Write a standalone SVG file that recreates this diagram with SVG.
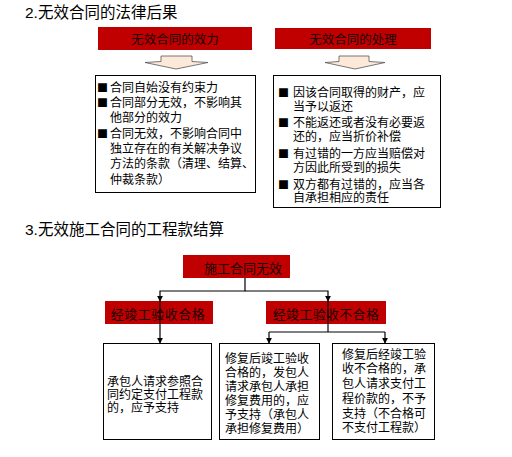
<svg xmlns="http://www.w3.org/2000/svg" width="512" height="457" viewBox="0 0 512 457">
<style>
text{font-family:"Liberation Sans","Noto Sans CJK SC",sans-serif;fill:#000}
.title{font-size:15.5px}
.red{fill:#C00000}
.rt{font-size:12.5px;fill:#1a0000;text-anchor:middle}
.box{fill:#fff;stroke:#000;stroke-width:1}
.t{font-size:12px}
.b{font-family:"Noto Sans CJK SC",sans-serif;font-size:11px}
.arrow{fill:#FDE9D9;stroke:#555;stroke-width:0.8}
.con{fill:none;stroke:#000;stroke-width:1.2}
</style>
<defs>
<marker id="ah" viewBox="0 0 8 8" refX="7" refY="4" markerWidth="6" markerHeight="6" orient="auto" markerUnits="userSpaceOnUse">
<path d="M0,0 L8,4 L0,8 z" fill="#000"/>
</marker>
</defs>
<rect width="512" height="457" fill="#fff"/>
<text class="title" x="25" y="18">2.无效合同的法律后果</text>
<text class="title" x="25" y="235">3.无效施工合同的工程款结算</text>

<g id="effect-head">
<rect class="red" x="98" y="27" width="154" height="23"/>
<text class="rt" x="175" y="44">无效合同的效力</text>
</g>
<g id="handle-head">
<rect class="red" x="275" y="28" width="156" height="21"/>
<text class="rt" x="353" y="44">无效合同的处理</text>
</g>
<g id="arrow1"><polygon class="arrow" points="161,56 192,56 192,61.5 208,62.5 176,69 145,62.5 161,61.5"/></g>
<g id="arrow2"><polygon class="arrow" points="339,56 369,56 369,61.5 385,62.5 355,69 325,62.5 339,61.5"/></g>

<g id="effect-box">
<rect class="box" x="95.5" y="75.5" width="160" height="117"/>
<text class="t"><tspan class="b" x="97" y="91.5">■</tspan><tspan x="110" y="91.5">合同自始没有约束力</tspan><tspan class="b" x="97" y="106.5">■</tspan><tspan x="110" y="106.5">合同部分无效，不影响其</tspan><tspan x="110" y="121.5">他部分的效力</tspan><tspan class="b" x="97" y="137.5">■</tspan><tspan x="110" y="137.5">合同无效，不影响合同中</tspan><tspan x="110" y="152.5">独立存在的有关解决争议</tspan><tspan x="110" y="167.5">方法的条款（清理、结算、</tspan><tspan x="110" y="183.5">仲裁条款）</tspan></text>
</g>

<g id="handle-box">
<rect class="box" x="273.5" y="75.5" width="167" height="132"/>
<text class="t"><tspan class="b" x="278" y="96.5">■</tspan><tspan x="293" y="96.5">因该合同取得的财产，应</tspan><tspan x="293" y="110.5">当予以返还</tspan><tspan class="b" x="278" y="127">■</tspan><tspan x="293" y="127">不能返还或者没有必要返</tspan><tspan x="293" y="141">还的，应当折价补偿</tspan><tspan class="b" x="278" y="158">■</tspan><tspan x="293" y="158">有过错的一方应当赔偿对</tspan><tspan x="293" y="171.5">方因此所受到的损失</tspan><tspan class="b" x="278" y="188.5">■</tspan><tspan x="293" y="188.5">双方都有过错的，应当各</tspan><tspan x="293" y="202">自承担相应的责任</tspan></text>
</g>

<g id="root">
<rect class="red" x="183" y="255" width="107" height="23"/>
<text class="rt" x="243" y="273" style="font-size:13px">施工合同无效</text>
</g>
<g id="pass">
<rect class="red" x="105" y="301" width="108" height="23"/>
<text class="rt" x="158" y="319" style="font-size:13px;letter-spacing:0.5px">经竣工验收合格</text>
</g>
<g id="fail">
<rect class="red" x="266" y="301" width="120" height="23"/>
<text class="rt" x="326" y="319" style="font-size:13px;letter-spacing:0.3px">经竣工验收不合格</text>
</g>

<g id="boxA">
<rect class="box" x="103.5" y="343.5" width="108" height="96"/>
<text class="t"><tspan x="107" y="385.5">承包人请求参照合</tspan><tspan x="107" y="398.5">同约定支付工程款</tspan><tspan x="107" y="411.5">的，应予支持</tspan></text>
</g>
<g id="boxB">
<rect class="box" x="219.5" y="343.5" width="100" height="96"/>
<text class="t"><tspan x="225" y="362.5">修复后竣工验收</tspan><tspan x="225" y="376.5">合格的，发包人</tspan><tspan x="225" y="390.5">请求承包人承担</tspan><tspan x="225" y="404.5">修复费用的，应</tspan><tspan x="225" y="418.5">予支持（承包人</tspan><tspan x="225" y="432.5">承担修复费用）</tspan></text>
</g>
<g id="boxC">
<rect class="box" x="332.5" y="343.5" width="102" height="96"/>
<text class="t"><tspan x="342" y="358.5">修复后经竣工验</tspan><tspan x="342" y="373">收不合格的，承</tspan><tspan x="342" y="388">包人请求支付工</tspan><tspan x="342" y="403">程价款的，不予</tspan><tspan x="342" y="418">支持（不合格可</tspan><tspan x="342" y="432">不支付工程款）</tspan></text>
</g>

<g id="connectors">
<path class="con" d="M245,278 V291 H160 V301" marker-end="url(#ah)"/>
<path class="con" d="M245,291 H328 V301" marker-end="url(#ah)"/>
<path class="con" d="M160,301 V343" marker-end="url(#ah)"/>
<path class="con" d="M328,301 V332"/>
<path class="con" d="M269,332 H385"/>
<path class="con" d="M269,332 V343" marker-end="url(#ah)"/>
<path class="con" d="M385,332 V343" marker-end="url(#ah)"/>
</g>
</svg>
